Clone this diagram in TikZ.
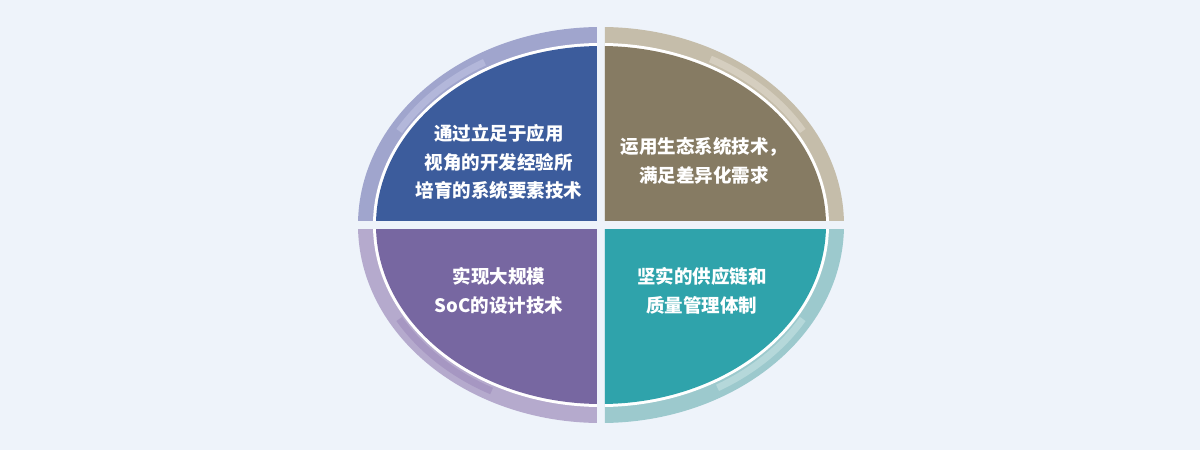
\documentclass[tikz,border=0pt]{standalone}
\usepackage{fontspec}
\newfontfamily\cjk{Noto Sans CJK SC}
\definecolor{bg}{HTML}{EEF3FA}
\definecolor{ringTL}{HTML}{A0A5CD}
\definecolor{bandTL}{HTML}{B3B7DA}
\definecolor{fillTL}{HTML}{3C5C9C}
\definecolor{ringTR}{HTML}{C5BDAA}
\definecolor{bandTR}{HTML}{D5CEBF}
\definecolor{fillTR}{HTML}{867B63}
\definecolor{ringBL}{HTML}{B5AACD}
\definecolor{bandBL}{HTML}{A697C2}
\definecolor{fillBL}{HTML}{7767A1}
\definecolor{ringBR}{HTML}{9CC9CD}
\definecolor{bandBR}{HTML}{B5D8DA}
\definecolor{fillBR}{HTML}{2FA3AB}
\tikzset{
  quadtext/.style={text=white, align=center, font=\cjk\bfseries\fontsize{18.5}{28.5}\selectfont, inner sep=0pt},
}
% #1 clip rect corner1, #2 corner2, #3 ring, #4 band, #5 fill, #6 start, #7 end
\newcommand{\myquad}[7]{%
  \begin{scope}
    \clip #1 rectangle #2;
    \fill[#3] (0,0) ellipse [x radius=243, y radius=198];
    \draw[#4, line width=7] (#6:233 and 188) arc [start angle=#6, end angle=#7, x radius=233, y radius=188];
    \fill[white] (0,0) ellipse [x radius=228, y radius=182];
    \fill[#5] (0,0) ellipse [x radius=225, y radius=179];
  \end{scope}}
\begin{document}
\begin{tikzpicture}[x=1pt,y=1pt]
  \fill[bg] (-601,-225) rectangle (599,225);
  \useasboundingbox (-601,-225) rectangle (599,225);
  \myquad{(-4,4)}{(-300,250)}{ringTL}{bandTL}{fillTL}{120}{150}
  \myquad{(4,4)}{(300,250)}{ringTR}{bandTR}{fillTR}{30}{62}
  \myquad{(-4,-4)}{(-300,-250)}{ringBL}{bandBL}{fillBL}{210}{242}
  \myquad{(4,-4)}{(300,-250)}{ringBR}{bandBR}{fillBR}{300}{330}
  \node[quadtext] (tl) at (-102,63) {通过立足于应用\\视角的开发经验所\\培育的系统要素技术};
  \node[quadtext] (tr) at (103,64) {运用生态系统技术，\\满足差异化需求};
  \node[quadtext] (bl) at (-102,-66) {实现大规模\\SoC的设计技术};
  \node[quadtext] (br) at (101,-66) {坚实的供应链和\\质量管理体制};
\end{tikzpicture}
\end{document}
